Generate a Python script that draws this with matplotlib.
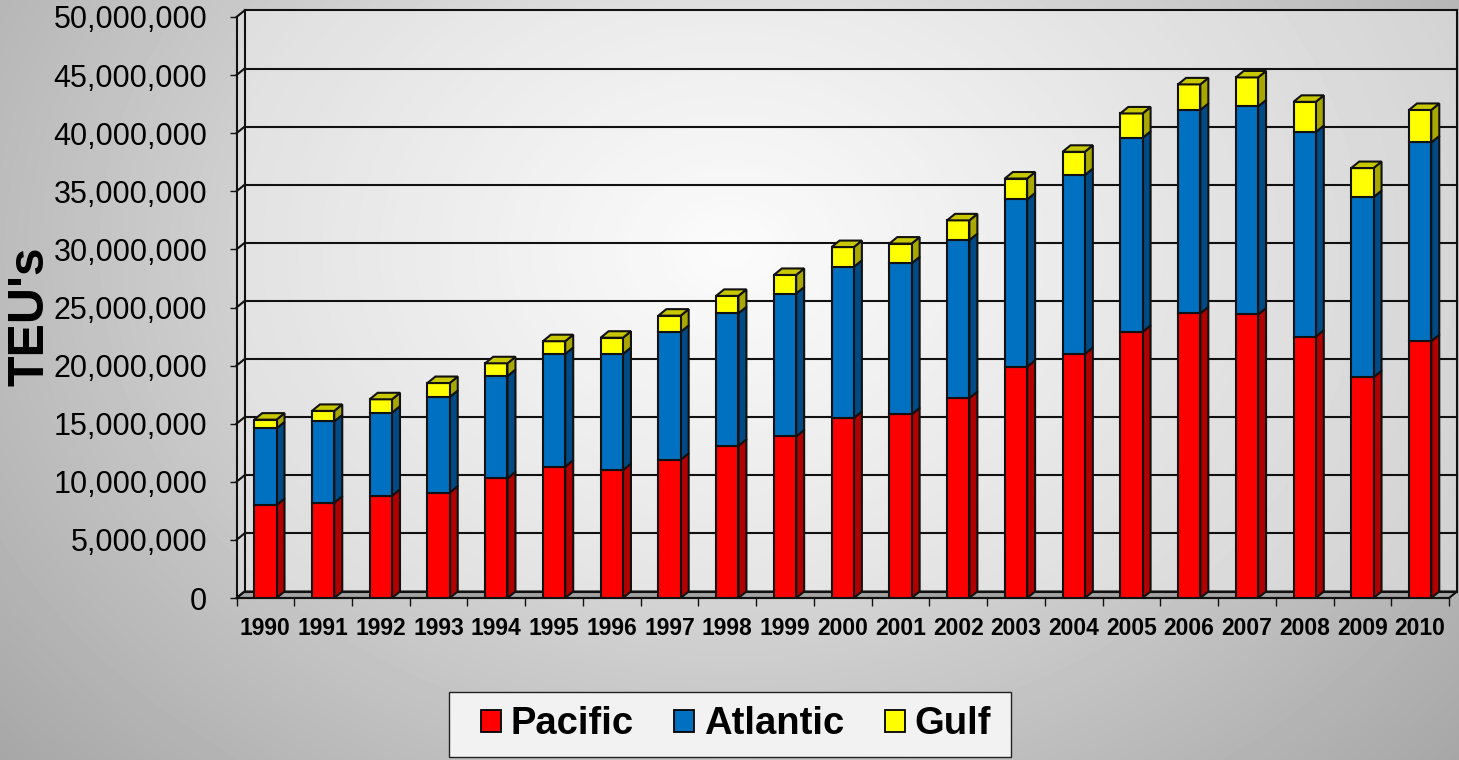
import numpy as np
import matplotlib
matplotlib.use("Agg")
import matplotlib.pyplot as plt
from matplotlib.patches import Polygon, Patch, Rectangle
from matplotlib.ticker import FuncFormatter, MultipleLocator

plt.rcParams['font.family'] = ['Liberation Sans', 'DejaVu Sans']

# Container traffic by coast (TEU's)
years = [str(y) for y in range(1990, 2011)]
pacific = [8000000, 8200000, 8800000, 9070000, 10300000, 11300000, 11000000,
           11900000, 13100000, 13900000, 15500000, 15800000, 17200000, 19900000,
           21000000, 22900000, 24500000, 24400000, 22500000, 19000000, 22100000]
atlantic = [6600000, 7000000, 7150000, 8230000, 8800000, 9700000, 10000000,
            11000000, 11400000, 12300000, 13000000, 13000000, 13600000, 14400000,
            15400000, 16700000, 17500000, 17900000, 17600000, 15500000, 17100000]
gulf = [750000, 900000, 1150000, 1200000, 1100000, 1100000, 1400000,
        1400000, 1500000, 1600000, 1700000, 1700000, 1700000, 1800000,
        2000000, 2100000, 2200000, 2500000, 2600000, 2500000, 2800000]
series_names = ["Pacific", "Atlantic", "Gulf"]

W, H, DPI = 1459, 760, 100
fig = plt.figure(figsize=(W / DPI, H / DPI), dpi=DPI)

# radial grey backdrop
bg_ax = fig.add_axes([0, 0, 1, 1], zorder=-10)
yy, xx = np.mgrid[0:H, 0:W]
d = np.sqrt(((xx - 730) / 900.0) ** 2 + ((yy - 250) / 700.0) ** 2)
shade = np.clip(0.98 - 0.3 * d, 0, 1)
bg_ax.imshow(shade, cmap='gray', vmin=0, vmax=1, extent=[0, 1, 0, 1],
             aspect='auto', origin='upper', interpolation='bilinear')
bg_ax.set_xlim(0, 1)
bg_ax.set_ylim(0, 1)
bg_ax.axis('off')

# front plane of the 3-D plot box (pixels)
L, R, T, B = 236.5, 1449, 17, 598
ax = fig.add_axes([L / W, 1 - B / H, (R - L) / W, (B - T) / H])
ax.set_facecolor('none')
n = len(years)
ymax = 50000000
ax.set_xlim(-0.5, n - 0.5)
ax.set_ylim(0, ymax)

px_x = n / (R - L)
px_y = ymax / (B - T)
ddx = 8 * px_x
ddy = 6.5 * px_y
edge = '#111111'
lw = 1.5

# back wall (light translucent panel)
ax.add_patch(Rectangle((-0.5 + ddx, ddy), n, ymax, facecolor='white', alpha=0.4,
                       edgecolor='none', clip_on=False, zorder=0))
# side wall
ax.add_patch(Polygon([(-0.5, 0), (-0.5 + ddx, ddy), (-0.5 + ddx, ymax + ddy), (-0.5, ymax)],
                     closed=True, facecolor='white', alpha=0.3, edgecolor='none',
                     clip_on=False, zorder=0))
# floor
ax.add_patch(Polygon([(-0.5, 0), (n - 0.5, 0), (n - 0.5 + ddx, ddy), (-0.5 + ddx, ddy)],
                     closed=True, facecolor='#a3a3a3', edgecolor=edge, linewidth=lw,
                     clip_on=False, zorder=1))

# gridlines on back and side walls
for v in np.arange(0, ymax + 1, 5000000):
    ax.plot([-0.5 + ddx, n - 0.5 + ddx], [v + ddy, v + ddy], color=edge, lw=lw,
            clip_on=False, zorder=1)
    ax.plot([-0.5, -0.5 + ddx], [v, v + ddy], color=edge, lw=lw, clip_on=False, zorder=1)
ax.plot([-0.5 + ddx, -0.5 + ddx], [ddy, ymax + ddy], color=edge, lw=lw, clip_on=False, zorder=1)
ax.plot([n - 0.5 + ddx, n - 0.5 + ddx], [ddy, ymax + ddy], color=edge, lw=lw, clip_on=False, zorder=1)

# stacked 3-D columns
x = np.arange(n)
bw = 22.3 * px_x
styles = [
    ('#ff0000', '#b00000', '#c00000'),
    ('#0070c0', '#004a85', '#00508f'),
    ('#ffff00', '#a8a800', '#c8c800'),
]
bottoms = np.zeros(n)
for vals, (fc, sc, tc) in zip([pacific, atlantic, gulf], styles):
    vals = np.array(vals, dtype=float)
    ax.bar(x, vals, bw, bottom=bottoms, color=fc, edgecolor=edge, linewidth=lw, zorder=5)
    for i in range(n):
        b, t = bottoms[i], bottoms[i] + vals[i]
        xr = x[i] + bw / 2
        ax.add_patch(Polygon([(xr, b), (xr + ddx, b + ddy), (xr + ddx, t + ddy), (xr, t)],
                             closed=True, facecolor=sc, edgecolor=edge, linewidth=lw,
                             zorder=4, clip_on=False))
    bottoms = bottoms + vals
    last_top = tc
for i in range(n):
    t = bottoms[i]
    xl, xr = x[i] - bw / 2, x[i] + bw / 2
    ax.add_patch(Polygon([(xl, t), (xr, t), (xr + ddx, t + ddy), (xl + ddx, t + ddy)],
                         closed=True, facecolor=last_top, edgecolor=edge, linewidth=lw,
                         zorder=6, clip_on=False))

# axes styling
for s in ['top', 'right']:
    ax.spines[s].set_visible(False)
for s in ['left', 'bottom']:
    ax.spines[s].set_color(edge)
    ax.spines[s].set_linewidth(lw)
    ax.spines[s].set_zorder(2)

ax.yaxis.set_major_locator(MultipleLocator(5000000))
ax.yaxis.set_major_formatter(FuncFormatter(lambda v, p: f"{v:,.0f}"))
ax.tick_params(axis='y', length=5, width=1, color=edge, pad=16, labelsize=22)
ax.set_xticks(x, years)
ax.set_xticks(np.arange(-0.5, n, 1), minor=True)
ax.tick_params(axis='x', which='major', length=0, pad=14, labelsize=16.5)
ax.tick_params(axis='x', which='minor', length=6, width=1, color=edge)
for lab in ax.get_xticklabels():
    lab.set_fontweight('bold')

fig.text(30 / W, 1 - 316 / H, "TEU's", rotation=90, ha='center', va='center',
         fontsize=36, fontweight='bold')

# legend box
bg_ax.add_patch(Rectangle((449 / W, 1 - 757 / H), (1011 - 449) / W, (757 - 692) / H,
                          transform=bg_ax.transAxes, facecolor='#f2f2f2',
                          edgecolor='#222222', linewidth=1.0, zorder=3))
handles = [Patch(facecolor=c[0], edgecolor='black', linewidth=1.3) for c in styles]
leg = fig.legend(handles, series_names, loc='center',
                 bbox_to_anchor=(736 / W, 1 - 724.5 / H), ncol=3,
                 prop={'size': 27.5, 'weight': 'bold'}, frameon=False,
                 handlelength=0.53, handleheight=0.53, handletextpad=0.26,
                 columnspacing=1.05, borderpad=0.2)

fig.savefig('out.png', dpi=DPI)
